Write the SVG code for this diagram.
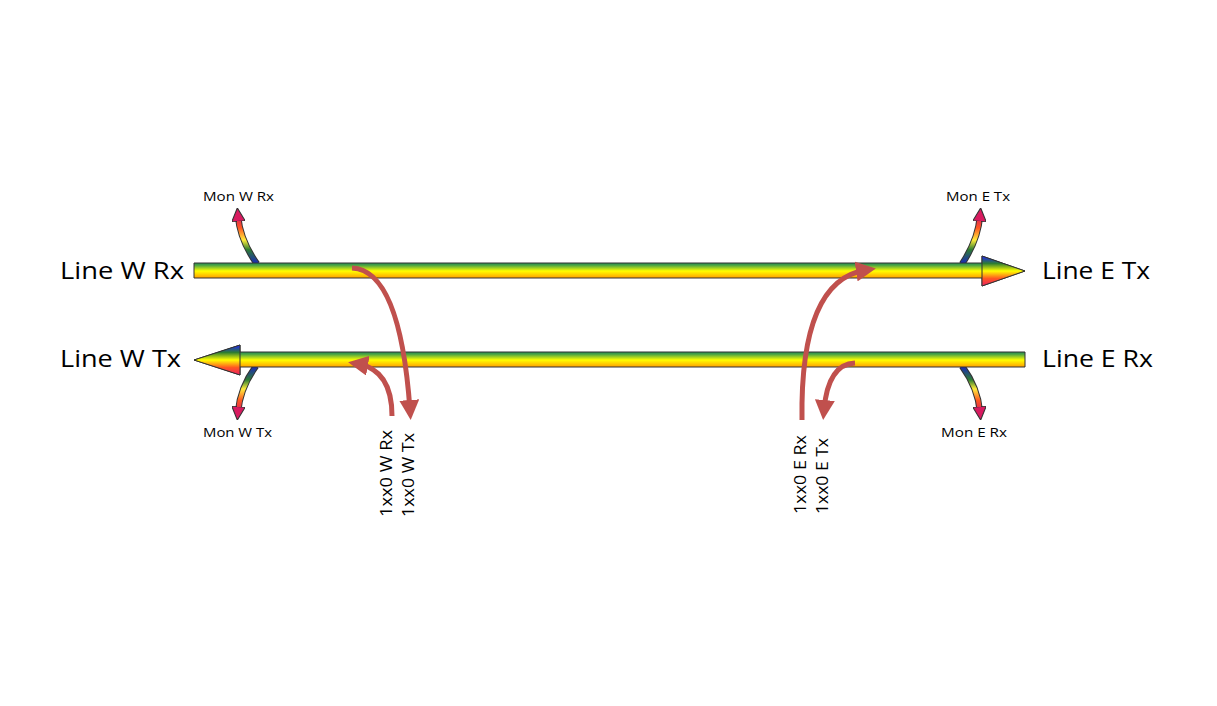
<svg xmlns="http://www.w3.org/2000/svg" width="1217" height="706" viewBox="0 0 1217 706">
<defs>
<linearGradient id="rb" x1="0" y1="0" x2="0" y2="1">
<stop offset="0" stop-color="#0d1b5e"/><stop offset="0.12" stop-color="#00695c"/><stop offset="0.3" stop-color="#43a047"/><stop offset="0.5" stop-color="#ffff00"/><stop offset="0.75" stop-color="#ff9800"/><stop offset="1" stop-color="#e53935"/>
</linearGradient>
<linearGradient id="head" x1="0" y1="0" x2="0" y2="1">
<stop offset="0" stop-color="#2020ff"/><stop offset="0.25" stop-color="#2e7d32"/><stop offset="0.5" stop-color="#ffff00"/><stop offset="0.75" stop-color="#ff5722"/><stop offset="1" stop-color="#e91e63"/>
</linearGradient>
<linearGradient id="mon" x1="0" y1="1" x2="0" y2="0">
<stop offset="0" stop-color="#1a23c0"/><stop offset="0.3" stop-color="#2e7d32"/><stop offset="0.5" stop-color="#ffeb3b"/><stop offset="0.75" stop-color="#ff5722"/><stop offset="1" stop-color="#d81b60"/>
</linearGradient>
<linearGradient id="monD" x1="0" y1="0" x2="0" y2="1">
<stop offset="0" stop-color="#1a23c0"/><stop offset="0.3" stop-color="#2e7d32"/><stop offset="0.5" stop-color="#ffeb3b"/><stop offset="0.75" stop-color="#ff5722"/><stop offset="1" stop-color="#d81b60"/>
</linearGradient>
<marker id="ra" viewBox="0 0 10 10" refX="5" refY="5" markerWidth="4" markerHeight="4" orient="auto"><path d="M0,0 L10,5 L0,10 z" fill="#c0504d"/></marker>
<marker id="ma" viewBox="0 0 10 10" refX="4" refY="5" markerWidth="3" markerHeight="3" orient="auto"><path d="M0,0 L10,5 L0,10 z" fill="#d81b60" stroke="#333" stroke-width="0.8"/></marker>
</defs>
<style>
.lbl{font-family:"Open Sans","Noto Sans",sans-serif;font-size:24px;fill:#000}
.sm{font-family:"Open Sans","Noto Sans",sans-serif;font-size:13px;fill:#000}
.vt{font-family:"Open Sans","Noto Sans",sans-serif;font-size:17px;fill:#000}
.red{fill:none;stroke:#c0504d;stroke-width:5;marker-end:url(#ra)}
.mon{fill:none;stroke-width:4.5}
.monb{fill:none;stroke:#333;stroke-width:6.5}
</style>
<rect width="1217" height="706" fill="#fff"/>
<g id="monitors">
<path class="monb" d="M257,264 Q240,240 238,216"/><path class="mon" stroke="url(#mon)" d="M257,264 Q240,240 238,216" marker-end="url(#ma)"/>
<path class="monb" d="M962,264 Q978,240 980,216"/><path class="mon" stroke="url(#mon)" d="M962,264 Q978,240 980,216" marker-end="url(#ma)"/>
<path class="monb" d="M256,366 Q240,388 238,412"/><path class="mon" stroke="url(#monD)" d="M256,366 Q240,388 238,412" marker-end="url(#ma)"/>
<path class="monb" d="M962,366 Q978,388 980,412"/><path class="mon" stroke="url(#monD)" d="M962,366 Q978,388 980,412" marker-end="url(#ma)"/>
</g>
<g id="line-top">
<path d="M194,263 H982 V256 L1025,271 L982,286 V278 H194 Z" fill="url(#rb)" stroke="#333" stroke-width="1"/>
<path d="M982,256 L1025,271 L982,286 Z" fill="url(#head)" stroke="#333" stroke-width="1"/>
</g>
<g id="line-bottom">
<path d="M1025,352 H240 V345 L194,360 L240,375 V367 H1025 Z" fill="url(#rb)" stroke="#333" stroke-width="1"/>
<path d="M240,345 L194,360 L240,375 Z" fill="url(#head)" stroke="#333" stroke-width="1"/>
</g>
<g id="connectors">
<path class="red" d="M352,268 Q400,270 410,410"/>
<path class="red" d="M392,416 Q392,370 358,364"/>
<path class="red" d="M802,420 Q800,280 866,270"/>
<path class="red" d="M855,363 Q828,364 824,410"/>
</g>
<g id="labels">
<text class="lbl" x="60" y="279" textLength="124" lengthAdjust="spacingAndGlyphs">Line W Rx</text>
<text class="lbl" x="60" y="367" textLength="121" lengthAdjust="spacingAndGlyphs">Line W Tx</text>
<text class="lbl" x="1042" y="279" textLength="108" lengthAdjust="spacingAndGlyphs">Line E Tx</text>
<text class="lbl" x="1042" y="367" textLength="111" lengthAdjust="spacingAndGlyphs">Line E Rx</text>
<text class="sm" x="203" y="201" textLength="71" lengthAdjust="spacingAndGlyphs">Mon W Rx</text>
<text class="sm" x="946" y="201" textLength="64" lengthAdjust="spacingAndGlyphs">Mon E Tx</text>
<text class="sm" x="203" y="437" textLength="69" lengthAdjust="spacingAndGlyphs">Mon W Tx</text>
<text class="sm" x="941" y="437" textLength="66" lengthAdjust="spacingAndGlyphs">Mon E Rx</text>
<text class="vt" transform="translate(392,517) rotate(-90)" textLength="87" lengthAdjust="spacingAndGlyphs">1xx0 W Rx</text>
<text class="vt" transform="translate(414,517) rotate(-90)" textLength="84" lengthAdjust="spacingAndGlyphs">1xx0 W Tx</text>
<text class="vt" transform="translate(806,514) rotate(-90)" textLength="79" lengthAdjust="spacingAndGlyphs">1xx0 E Rx</text>
<text class="vt" transform="translate(828,514) rotate(-90)" textLength="76" lengthAdjust="spacingAndGlyphs">1xx0 E Tx</text>
</g>
</svg>
